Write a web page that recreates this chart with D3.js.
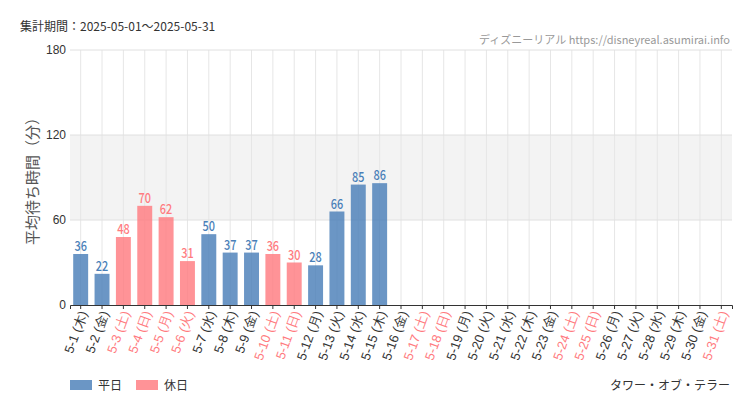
<!DOCTYPE html>
<html><head><meta charset="utf-8">
<script src="https://cdn.jsdelivr.net/npm/d3@7"></script>
<style>body{margin:0;background:#fff;font-family:"Noto Sans CJK JP","Noto Sans",sans-serif;}</style>
</head><body><div id="chart"></div>
<script>
var days=["5-1","5-2","5-3","5-4","5-5","5-6","5-7","5-8","5-9","5-10","5-11","5-12","5-13","5-14","5-15","5-16","5-17","5-18","5-19","5-20","5-21","5-22","5-23","5-24","5-25","5-26","5-27","5-28","5-29","5-30","5-31"];
var weekdays=["木","金","土","日","月","火","水","木","金","土","日","月","火","水","木","金","土","日","月","火","水","木","金","土","日","月","火","水","木","金","土"];
var holiday=[0,0,1,1,1,1,0,0,0,1,1,0,0,0,0,0,1,1,0,0,0,0,0,1,1,0,0,0,0,0,1];
var waits=[36,22,48,70,62,31,50,37,37,36,30,28,66,85,86];
var yTicks=[0,60,120,180];

var width=750,height=410;
var margin={left:70,right:18,top:50,bottom:105};
var blue="#4a7fb8",red="#ff7b80";

var svg=d3.select('#chart').append('svg').attr('width',width).attr('height',height);
var x=d3.scaleBand().domain(days).range([margin.left,width-margin.right]).paddingInner(0.3).paddingOuter(0.15);
var y=d3.scaleLinear().domain([0,180]).range([height-margin.bottom,margin.top]);

svg.append('rect').attr('x',margin.left).attr('width',width-margin.right-margin.left)
  .attr('y',y(120)).attr('height',y(60)-y(120)).attr('fill','#f3f3f3');

svg.selectAll('.vg').data(days).enter().append('line')
  .attr('x1',d=>x(d)+x.bandwidth()/2).attr('x2',d=>x(d)+x.bandwidth()/2)
  .attr('y1',y(180)).attr('y2',y(0)).attr('stroke','#e6e6e6');
svg.selectAll('.hg').data(yTicks.slice(1)).enter().append('line')
  .attr('x1',margin.left).attr('x2',width-margin.right)
  .attr('y1',d=>y(d)).attr('y2',d=>y(d)).attr('stroke','#e0e0e0');

svg.selectAll('.bar').data(waits).enter().append('rect')
  .attr('x',(d,i)=>x(days[i])).attr('width',x.bandwidth())
  .attr('y',d=>y(d)).attr('height',d=>y(0)-y(d))
  .attr('fill',(d,i)=>holiday[i]?red:blue).attr('opacity',0.82);
// condensed value labels
svg.selectAll('.val').data(waits).enter().append('text')
  .attr('transform',(d,i)=>'translate('+(x(days[i])+x.bandwidth()/2)+','+(y(d)-3)+') scale(0.78,1)')
  .attr('text-anchor','middle').attr('font-size',14).attr('font-weight',500)
  .attr('fill',(d,i)=>holiday[i]?red:blue).text(d=>d);

var xa=svg.append('g').attr('transform','translate(0,'+y(0)+')')
  .call(d3.axisBottom(x).tickSize(4).tickFormat((d,i)=>d+" ("+weekdays[i]+")"));
xa.select('.domain').attr('stroke','#333');
xa.selectAll('line').attr('stroke','#333');
xa.selectAll('text').attr('font-size',13).attr('text-anchor','end')
  .attr('transform','translate(-4,4) rotate(-70)').attr('dx',0).attr('dy','0.35em')
  .attr('fill',(d,i)=>holiday[i]?red:'#333');

var ya=svg.append('g').attr('transform','translate('+margin.left+',0)')
  .call(d3.axisLeft(y).tickValues(yTicks).tickSize(0).tickPadding(4));
ya.select('.domain').remove();
ya.selectAll('text').attr('font-size',12).attr('fill','#333');

svg.append('text').attr('transform','translate(38,'+((y(0)+y(180))/2)+') rotate(-90)')
  .attr('text-anchor','middle').attr('font-size',15).attr('fill','#555').text('平均待ち時間（分）');
svg.append('text').attr('x',20).attr('y',31).attr('font-size',12).attr('fill','#333').text('集計期間：2025-05-01〜2025-05-31');
svg.append('text').attr('x',730).attr('y',44).attr('text-anchor','end').attr('font-size',11).attr('fill','#999').text('ディズニーリアル https://disneyreal.asumirai.info');

var lg=svg.append('g').attr('transform','translate(70,380)');
[["平日",blue],["休日",red]].forEach(function(l,i){
  lg.append('rect').attr('x',i*66).attr('y',0).attr('width',22).attr('height',10).attr('fill',l[1]).attr('opacity',0.82);
  lg.append('text').attr('x',i*66+28).attr('y',10).attr('font-size',12).attr('fill','#333').text(l[0]);
});
svg.append('text').attr('x',730).attr('y',390).attr('text-anchor','end').attr('font-size',12).attr('fill','#333').text('タワー・オブ・テラー');
</script></body></html>
